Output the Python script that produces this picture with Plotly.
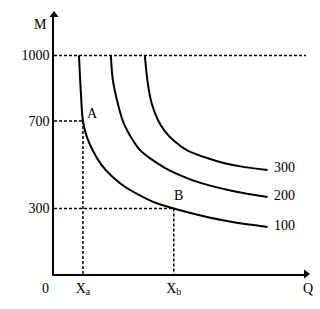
import plotly.graph_objects as go

# Curves (Q, M)
curve_labels = ["100", "200", "300"]
q100 = [10, 10.8, 11.6, 13.2, 15.6, 18.8, 23.2, 28.4, 34.4, 40.4, 48, 58.4, 70.4, 85.6]
m100 = [1000, 824, 700, 626, 564, 503, 447, 399, 360, 327, 300, 269, 240, 215]
q200 = [22.8, 23.6, 25.6, 27.6, 29.6, 32, 34.4, 38.4, 44.4, 51.6, 58.4, 71.6, 85.6]
m200 = [1000, 887, 779, 700, 651, 605, 568, 530, 486, 447, 418, 380, 352]
q300 = [36.4, 37.6, 39.2, 41.6, 44.4, 48.4, 53.6, 60.4, 68.4, 76.4, 85.6]
m300 = [1000, 872, 779, 706, 654, 606, 564, 534, 507, 489, 476]

m_ticks = [300, 700, 1000]
m_tick_text = ["300", "700", "1000"]
point_names = ["A", "B"]
point_q = [11.6, 48]
point_m = [700, 300]
q_tick_text = ["X<sub>a</sub>", "X<sub>b</sub>"]
m_top = 1000
q_max = 101
m_max = 1185

FONT = "Liberation Serif"
fig = go.Figure()

dash = dict(color="black", width=1.5, dash="3px,2px")
fig.add_trace(go.Scatter(x=[0, q_max], y=[m_top, m_top], mode="lines", line=dash, hoverinfo="skip", cliponaxis=False))
for q, m in zip(point_q, point_m):
    fig.add_trace(go.Scatter(x=[0, q], y=[m, m], mode="lines", line=dash, hoverinfo="skip"))
    fig.add_trace(go.Scatter(x=[q, q], y=[m, 0], mode="lines", line=dash, hoverinfo="skip"))

for qs, ms, lab in zip([q100, q200, q300], [m100, m200, m300], curve_labels):
    fig.add_trace(go.Scatter(x=qs, y=ms, mode="lines", line=dict(color="black", width=2),
                             line_shape="spline", hoverinfo="skip"))
    fig.add_annotation(x=qs[-1], y=ms[-1], text=lab, showarrow=False, xanchor="left",
                       xshift=4, yshift=2, font=dict(family=FONT, size=14, color="black"))

for name, q, m in zip(point_names, point_q, point_m):
    fig.add_annotation(x=q, y=m, text=name, showarrow=False, xanchor="left", yanchor="bottom",
                       xshift=2 if name == "A" else -2, yshift=-2 if name == "A" else 3,
                       font=dict(family=FONT, size=14, color="black"))

# axis arrowheads
fig.add_trace(go.Scatter(x=[q_max], y=[0], mode="markers", cliponaxis=False, hoverinfo="skip",
                         marker=dict(symbol="triangle-right", size=8, color="black")))
fig.add_trace(go.Scatter(x=[0], y=[m_max], mode="markers", cliponaxis=False, hoverinfo="skip",
                         marker=dict(symbol="triangle-up", size=8, color="black")))

fig.add_annotation(x=0, y=1141, text="M", showarrow=False, xanchor="right", xshift=-5,
                   font=dict(family=FONT, size=14, color="black"))
fig.add_annotation(x=q_max, y=0, text="Q", showarrow=False, yanchor="top", xshift=2, yshift=-5,
                   font=dict(family=FONT, size=14, color="black"))
fig.add_annotation(x=0, y=0, text="0", showarrow=False, xanchor="right", yanchor="top", xshift=-3, yshift=-5,
                   font=dict(family=FONT, size=14, color="black"))

fig.update_layout(
    width=320, height=309, margin=dict(l=54, r=13.5, t=15, b=26),
    paper_bgcolor="white", plot_bgcolor="white", showlegend=False,
    font=dict(family=FONT, size=14, color="black"),
    xaxis=dict(range=[0, q_max], showgrid=False, zeroline=False, showline=True, linecolor="black", linewidth=1.5,
               tickvals=point_q, ticktext=q_tick_text, ticks="", tickfont=dict(family=FONT, size=14)),
    yaxis=dict(range=[0, m_max], showgrid=False, zeroline=False, showline=True, linecolor="black", linewidth=1.5,
               tickvals=m_ticks, ticktext=m_tick_text, ticks="", tickfont=dict(family=FONT, size=14)),
)

fig.write_html("out.html")
